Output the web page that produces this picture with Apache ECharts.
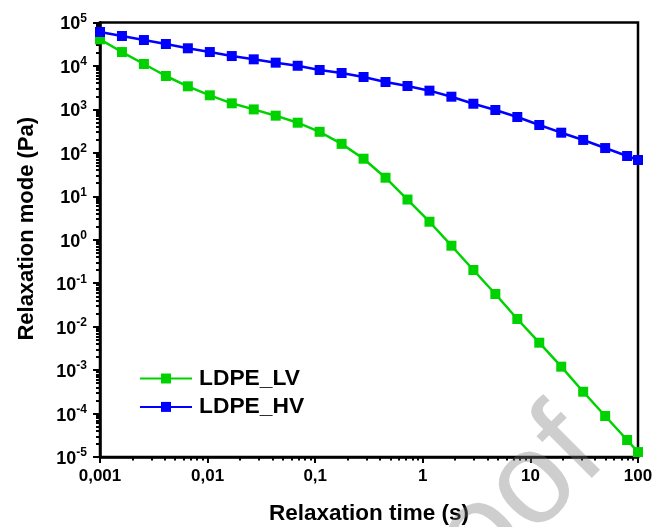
<!DOCTYPE html>
<html><head><meta charset="utf-8">
<script src="https://cdn.jsdelivr.net/npm/echarts@6/dist/echarts.min.js"></script>
<style>html,body{margin:0;padding:0;background:#fff}#c{width:653px;height:527px}</style>
</head><body><div id="c"></div>
<script>
// Relaxation time (s)
const relaxationTime = [0.001, 0.0016, 0.00256, 0.004096, 0.0065536, 0.0104858, 0.0167772, 0.0268435, 0.0429497, 0.0687195, 0.109951, 0.175922, 0.281475, 0.450360, 0.720576, 1.15292, 1.84467, 2.95148, 4.72237, 7.55579, 12.0893, 19.3428, 30.9485, 49.5176, 79.2282, 100];
// Relaxation mode (Pa)
const ldpeLV = [41000, 20900, 11100, 5870, 3400, 2110, 1380, 1000, 717, 494, 305, 161, 73.3, 26.8, 8.43, 2.60, 0.729, 0.201, 0.0564, 0.0150, 0.00427, 0.00120, 0.000318, 0.0000879, 0.0000246, 0.0000130];
const ldpeHV = [60400, 48900, 39500, 32000, 25500, 20900, 16900, 14200, 11900, 10100, 8070, 6880, 5570, 4270, 3460, 2700, 1960, 1350, 968, 668, 437, 291, 198, 129, 84.6, 68.4];
const seriesNames = ['LDPE_LV', 'LDPE_HV'];
const xTickValues = [0.001, 0.01, 0.1, 1, 10, 100];
const xTickLabels = ['0,001', '0,01', '0,1', '1', '10', '100'];
const yExponents = [-5, -4, -3, -2, -1, 0, 1, 2, 3, 4, 5];
const xTitle = 'Relaxation time (s)';
const yTitle = 'Relaxation mode (Pa)';
const watermark = 'Proof';

const FONT = '"Liberation Sans", Arial, sans-serif';
const yTickValues = yExponents.map(e => Math.pow(10, e));
function minorTicks(d0, d1) {
  const out = [];
  for (let d = d0; d < d1; d++) for (let m = 2; m <= 9; m++) out.push(Number((m * Math.pow(10, d)).toPrecision(6)));
  return out;
}
const xMinor = minorTicks(-3, 2);
const yMinor = minorTicks(-5, 5);
const pairs = arr => arr.map((v, i) => [relaxationTime[i], v]);

const chart = echarts.init(document.getElementById('c'), null, {renderer: 'canvas'});
const baseX = {type: 'log', logBase: 10, min: 0.001, max: 100, position: 'bottom', gridIndex: 0, splitLine: {show: false}, minorTick: {show: false}};
const baseY = {type: 'log', logBase: 10, min: 1e-5, max: 1e5, position: 'left', gridIndex: 0, splitLine: {show: false}, minorTick: {show: false}};
chart.setOption({
  animation: false,
  backgroundColor: '#fff',
  textStyle: {fontFamily: FONT},
  grid: {left: 100, right: 15, top: 22.5, bottom: 70, show: true, borderColor: '#000', borderWidth: 2.5, containLabel: false, outerBoundsMode: 'none'},
  legend: {
    orient: 'vertical', left: 134, top: 362, itemWidth: 52, itemHeight: 12.5, itemGap: 5.4,
    textStyle: {fontSize: 22.8, fontWeight: 'bold', color: '#000', fontFamily: FONT, padding: [0, 0, 0, 2]},
    data: seriesNames
  },
  xAxis: [
    Object.assign({}, baseX, {
      axisLine: {show: true, lineStyle: {color: '#000', width: 2.5}},
      axisTick: {show: true, inside: false, length: 6, lineStyle: {color: '#000', width: 2}, customValues: xTickValues},
      axisLabel: {show: true, margin: 11, fontSize: 17, fontWeight: 'bold', color: '#000', fontFamily: FONT, customValues: xTickValues,
        formatter: v => xTickLabels[Math.round(Math.log10(v)) + 3]},
      name: xTitle, nameLocation: 'middle', nameGap: 45,
      nameTextStyle: {fontSize: 22.5, fontWeight: 'bold', color: '#000', fontFamily: FONT}
    }),
    Object.assign({}, baseX, {
      axisLine: {show: false},
      axisTick: {show: true, inside: false, length: 3.5, lineStyle: {color: '#000', width: 2}, customValues: xMinor},
      axisLabel: {show: false}
    })
  ],
  yAxis: [
    Object.assign({}, baseY, {
      axisLine: {show: true, lineStyle: {color: '#000', width: 2.5}},
      axisTick: {show: true, inside: false, length: 7, lineStyle: {color: '#000', width: 2}, customValues: yTickValues},
      axisLabel: {show: true, margin: 13, color: '#000', fontFamily: FONT, customValues: yTickValues,
        formatter: v => '{b|10}{s|' + Math.round(Math.log10(v)) + '}',
        rich: {
          b: {fontSize: 18, fontWeight: 'bold', color: '#000', fontFamily: FONT, lineHeight: 20, padding: [4, 0, 0, 0]},
          s: {fontSize: 12, fontWeight: 'bold', color: '#000', fontFamily: FONT, verticalAlign: 'top', lineHeight: 12}
        }},
      name: yTitle, nameLocation: 'middle', nameGap: 62,
      nameTextStyle: {fontSize: 22, fontWeight: 'bold', color: '#000', fontFamily: FONT, padding: [0, 0, 0, 22]}
    }),
    Object.assign({}, baseY, {
      axisLine: {show: false},
      axisTick: {show: true, inside: false, length: 4, lineStyle: {color: '#000', width: 2}, customValues: yMinor},
      axisLabel: {show: false}
    })
  ],
  series: [
    {name: seriesNames[0], type: 'line', xAxisIndex: 0, yAxisIndex: 0, data: pairs(ldpeLV), symbol: 'rect', symbolSize: 10, clip: false,
      color: '#00d200', lineStyle: {width: 2.5, color: '#00d200'}, itemStyle: {color: '#00d200'}},
    {name: seriesNames[1], type: 'line', xAxisIndex: 0, yAxisIndex: 0, data: pairs(ldpeHV), symbol: 'rect', symbolSize: 10, clip: false,
      color: '#0000ff', lineStyle: {width: 2.5, color: '#0000ff'}, itemStyle: {color: '#0000ff'}}
  ],
  graphic: [{
    type: 'text', x: 630, y: 481, rotation: Math.PI / 4, z: 100, silent: true,
    style: {text: watermark, font: '130px ' + FONT, fill: 'rgba(120,120,120,0.36)', align: 'right', verticalAlign: 'bottom'}
  }]
});
</script>
</body></html>
